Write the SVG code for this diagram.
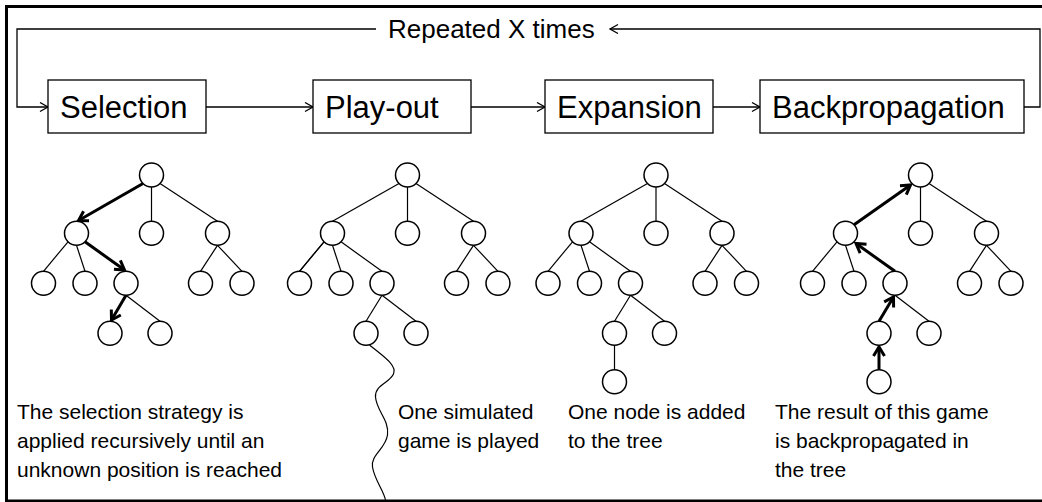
<svg xmlns="http://www.w3.org/2000/svg" width="1042" height="502" viewBox="0 0 1042 502">
<defs>
<style>
.box{fill:#fff;stroke:#000;stroke-width:1.3}
.lbl{font-family:"Liberation Sans",Arial,sans-serif;font-size:31px;fill:#000}
.hdr{font-family:"Liberation Sans",Arial,sans-serif;font-size:26px;fill:#000}
.cap{font-family:"Liberation Sans",Arial,sans-serif;font-size:21px;fill:#000}
.conn{fill:none;stroke:#000;stroke-width:1.3}
.nd{fill:#fff;stroke:#000;stroke-width:1.5}
.edge{fill:none;stroke:#000;stroke-width:1.2}
.thick{fill:none;stroke:#000;stroke-width:3}
</style>
<marker id="arr" markerUnits="userSpaceOnUse" markerWidth="12" markerHeight="12" refX="9" refY="5" orient="auto">
<path d="M1,0.5 L9,5 L1,9.5" fill="none" stroke="#000" stroke-width="1.3"/>
</marker>
<marker id="tarr" markerUnits="userSpaceOnUse" markerWidth="16" markerHeight="16" refX="10" refY="6" orient="auto" overflow="visible">
<path d="M1,0.5 L10,6 L1,11.5" fill="none" stroke="#000" stroke-width="3"/>
</marker>
<g id="baseNodes">
<circle class="nd" cx="0" cy="0" r="12"/>
<circle class="nd" cx="-75" cy="58.3" r="12"/>
<circle class="nd" cx="0" cy="58.3" r="12"/>
<circle class="nd" cx="66" cy="58.3" r="12"/>
<circle class="nd" cx="-108" cy="108.3" r="12"/>
<circle class="nd" cx="-66.5" cy="108.3" r="12"/>
<circle class="nd" cx="-25.5" cy="108.3" r="12"/>
<circle class="nd" cx="49" cy="108.3" r="12"/>
<circle class="nd" cx="90.5" cy="108.3" r="12"/>
<circle class="nd" cx="-41.5" cy="158.3" r="12"/>
<circle class="nd" cx="8.5" cy="158.3" r="12"/>
</g>
<g id="commonEdges">
<line class="edge" x1="0" y1="12" x2="0" y2="46.3"/>
<line class="edge" x1="8.5" y1="8.5" x2="66" y2="46.3"/>
<line class="edge" x1="-83.5" y1="66.8" x2="-108" y2="96.3"/>
<line class="edge" x1="-75" y1="70.3" x2="-66.5" y2="96.3"/>
<line class="edge" x1="66" y1="70.3" x2="49" y2="96.3"/>
<line class="edge" x1="66" y1="70.3" x2="90.5" y2="96.3"/>
<line class="edge" x1="-25.5" y1="120.3" x2="8.5" y2="146.3"/>
</g>
</defs>
<rect x="6.5" y="6.5" width="1040" height="494.5" fill="#fff" stroke="#000" stroke-width="3"/>

<g id="connectors">
<path class="conn" d="M376,29 H17 V107 H48" marker-end="url(#arr)"/>
<path class="conn" d="M1024,107 H1040 V29 H610" marker-end="url(#arr)"/>
<line class="conn" x1="206" y1="107" x2="313" y2="107" marker-end="url(#arr)"/>
<line class="conn" x1="471" y1="107" x2="545" y2="107" marker-end="url(#arr)"/>
<line class="conn" x1="713" y1="107" x2="760" y2="107" marker-end="url(#arr)"/>
</g>
<text class="hdr" x="388" y="37.5">Repeated X times</text>

<g id="selection"><rect class="box" x="48" y="80" width="158" height="53"/><text class="lbl" x="60" y="118">Selection</text></g>
<g id="playout"><rect class="box" x="313" y="80" width="158" height="53"/><text class="lbl" x="325" y="118">Play-out</text></g>
<g id="expansion"><rect class="box" x="545" y="80" width="168" height="53"/><text class="lbl" x="557" y="118">Expansion</text></g>
<g id="backprop"><rect class="box" x="760" y="80" width="264" height="53"/><text class="lbl" x="772" y="118">Backpropagation</text></g>

<g id="tree-selection" transform="translate(151.5,175)">
<use href="#commonEdges"/>
<line class="thick" x1="-8.5" y1="8.5" x2="-73" y2="45.5" marker-end="url(#tarr)"/>
<line class="thick" x1="-66.5" y1="66.8" x2="-27" y2="95" marker-end="url(#tarr)"/>
<line class="thick" x1="-25.5" y1="120.3" x2="-40" y2="145" marker-end="url(#tarr)"/>
<use href="#baseNodes"/>
</g>

<g id="tree-playout" transform="translate(407.5,175)">
<use href="#commonEdges"/>
<line class="edge" x1="-8.5" y1="8.5" x2="-75" y2="46.3"/>
<line class="edge" x1="-83.5" y1="66.8" x2="-108" y2="96.3"/>
<line class="edge" x1="-66.5" y1="66.8" x2="-25.5" y2="96.3"/>
<line class="edge" x1="-25.5" y1="120.3" x2="-41.5" y2="146.3"/>
<path class="edge" d="M-38,170 C-26,180 -10,190 -14,199 C-18,208 -33,210 -32,222 C-31,236 -18,245 -20,260 C-22,274 -37,280 -35,292 C-33,305 -24,315 -22,325"/>
<use href="#baseNodes"/>
</g>

<g id="tree-expansion" transform="translate(656,175)">
<use href="#commonEdges"/>
<line class="edge" x1="-8.5" y1="8.5" x2="-75" y2="46.3"/>
<line class="edge" x1="-66.5" y1="66.8" x2="-25.5" y2="96.3"/>
<line class="edge" x1="-25.5" y1="120.3" x2="-41.5" y2="146.3"/>
<line class="edge" x1="-41.5" y1="170.3" x2="-41.5" y2="194.7"/>
<use href="#baseNodes"/>
<circle class="nd" cx="-41.5" cy="206.7" r="12"/>
</g>

<g id="tree-backprop" transform="translate(920.5,175)">
<use href="#commonEdges"/>
<line class="thick" x1="-66.5" y1="49.8" x2="-10" y2="10" marker-end="url(#tarr)"/>
<line class="thick" x1="-25.5" y1="96.3" x2="-64.5" y2="68.5" marker-end="url(#tarr)"/>
<line class="thick" x1="-41.5" y1="146.3" x2="-27" y2="122" marker-end="url(#tarr)"/>
<line class="thick" x1="-41.5" y1="194.7" x2="-41.5" y2="172" marker-end="url(#tarr)"/>
<use href="#baseNodes"/>
<circle class="nd" cx="-41.5" cy="206.7" r="12"/>
</g>

<g id="captions">
<text class="cap" x="17" y="419">The selection strategy is</text>
<text class="cap" x="17" y="448">applied recursively until an</text>
<text class="cap" x="17" y="477">unknown position is reached</text>
<text class="cap" x="398" y="419">One simulated</text>
<text class="cap" x="398" y="448">game is played</text>
<text class="cap" x="568" y="419">One node is added</text>
<text class="cap" x="568" y="448">to the tree</text>
<text class="cap" x="775" y="419">The result of this game</text>
<text class="cap" x="775" y="448">is backpropagated in</text>
<text class="cap" x="775" y="477">the tree</text>
</g>
</svg>
